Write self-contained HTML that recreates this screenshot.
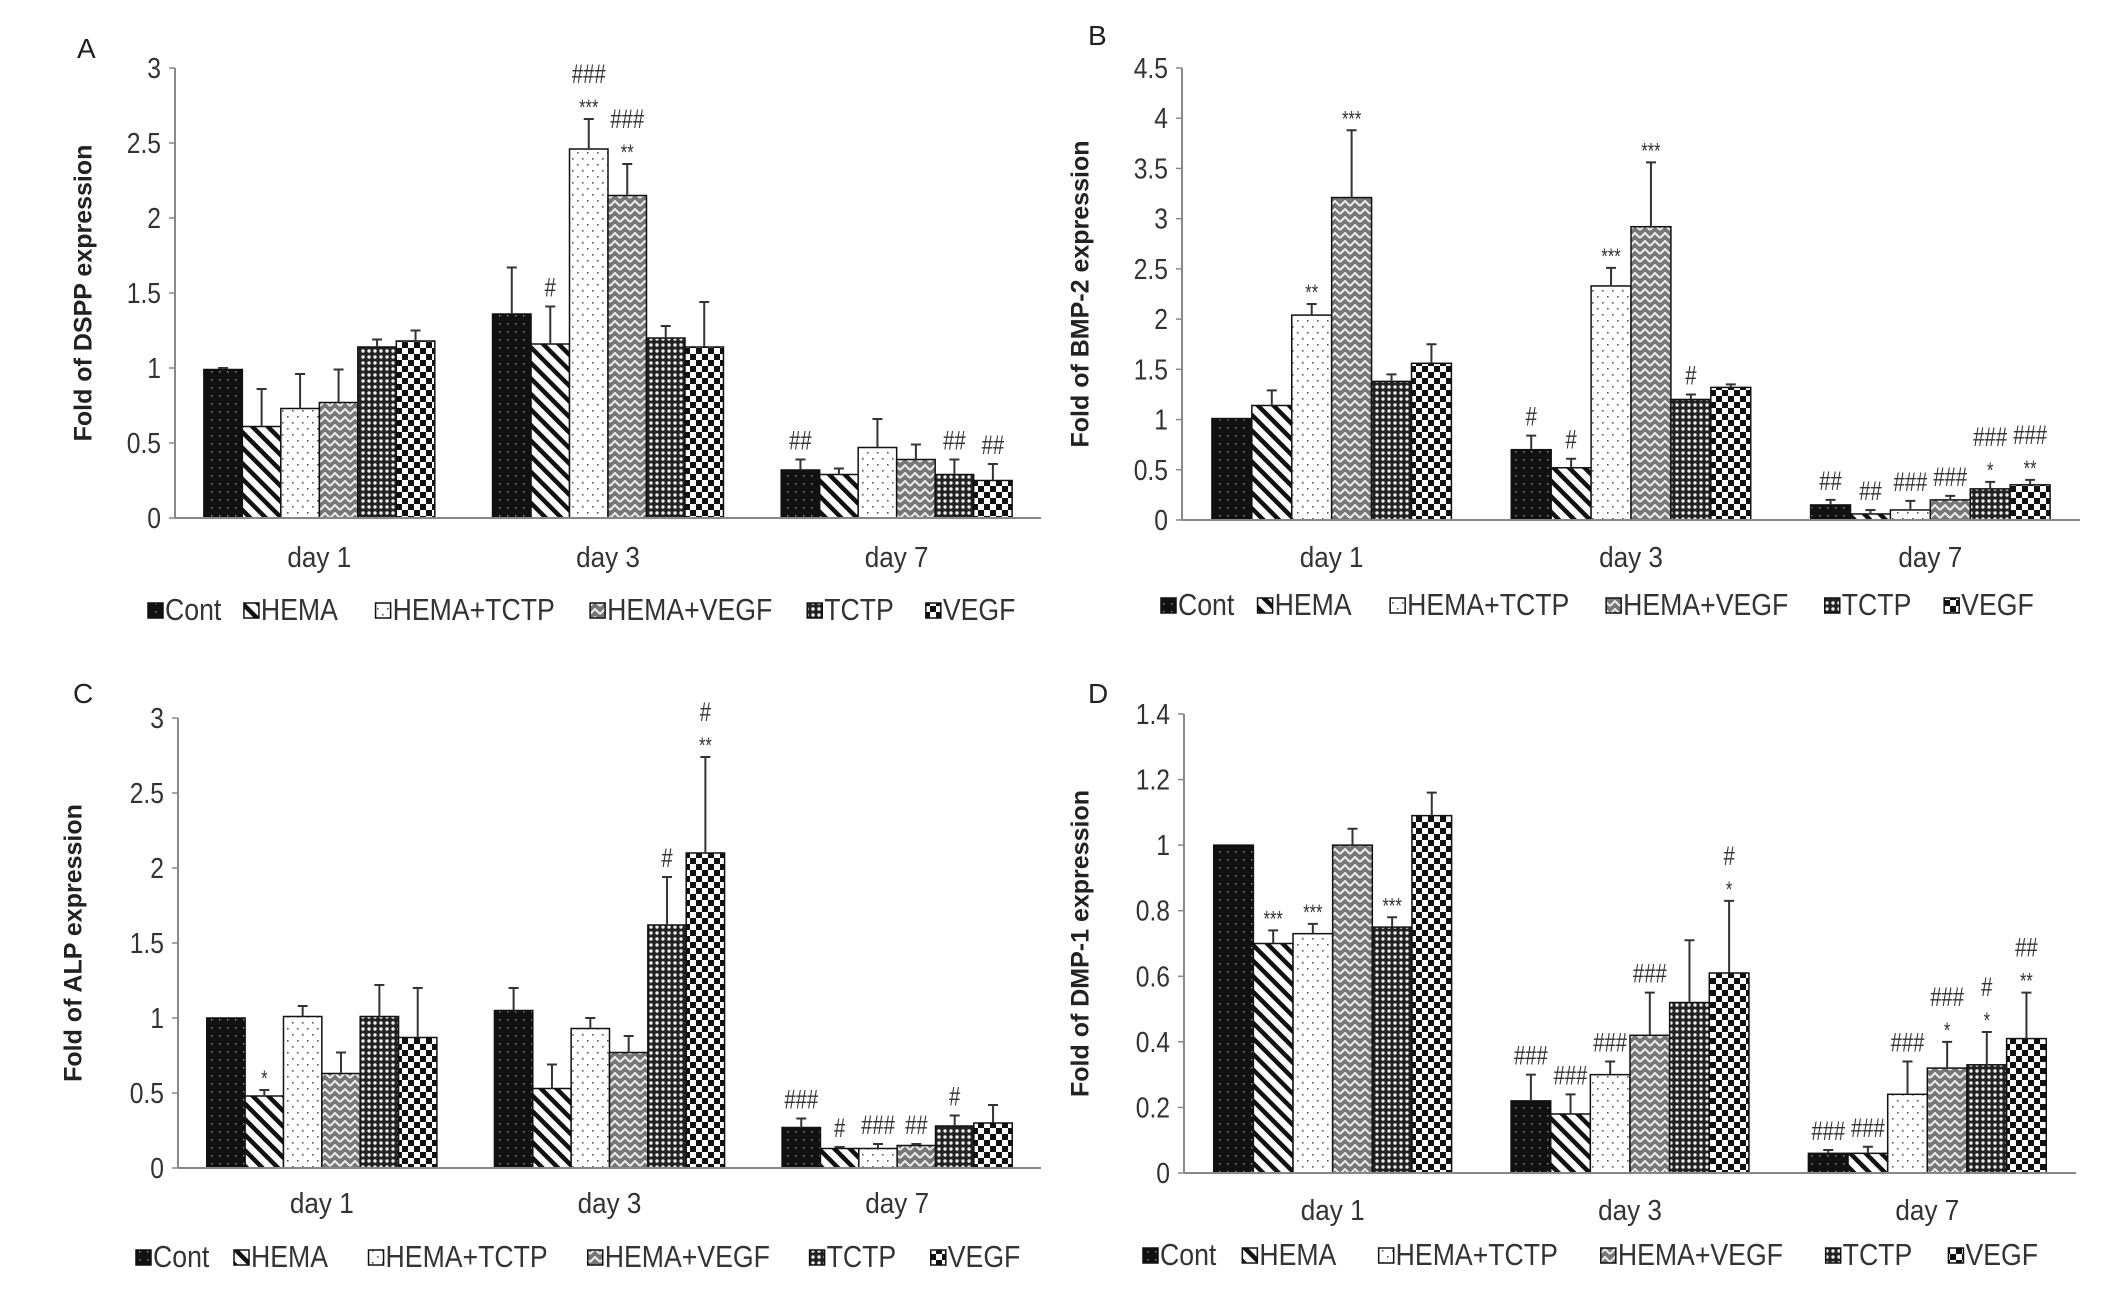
<!DOCTYPE html>
<html><head><meta charset="utf-8"><style>
html,body{margin:0;padding:0;background:#fff;}
svg{display:block;}
text{font-family:"Liberation Sans",sans-serif;}
</style></head><body>
<svg id="fig" width="2126" height="1301" viewBox="0 0 2126 1301" xmlns="http://www.w3.org/2000/svg">
<defs>
<pattern id="p-cont" width="8" height="8" patternUnits="userSpaceOnUse"><rect width="8" height="8" fill="#111"/><rect x="3" y="3" width="1.5" height="1.5" fill="#888"/></pattern>
<pattern id="p-hema" width="11" height="11" patternUnits="userSpaceOnUse" patternTransform="rotate(45)"><rect width="11" height="11" fill="#fff"/><rect width="11" height="4.5" fill="#111"/></pattern>
<pattern id="p-htctp" width="10" height="12" patternUnits="userSpaceOnUse"><rect width="10" height="12" fill="#fff"/><rect x="2" y="2" width="1.6" height="1.6" fill="#555"/><rect x="7" y="8" width="1.6" height="1.6" fill="#555"/></pattern>
<pattern id="p-hvegf" width="10" height="8" patternUnits="userSpaceOnUse"><rect width="10" height="8" fill="#777"/><polyline points="0,6 5,1 10,6" fill="none" stroke="#eee" stroke-width="2"/></pattern>
<pattern id="p-tctp" width="6" height="6" patternUnits="userSpaceOnUse"><rect width="6" height="6" fill="#222"/><circle cx="3" cy="3" r="1.7" fill="#eee"/></pattern>
<pattern id="p-vegf" width="12" height="12" patternUnits="userSpaceOnUse"><rect width="12" height="12" fill="#fff"/><rect width="6" height="6" fill="#111"/><rect x="6" y="6" width="6" height="6" fill="#111"/></pattern>
</defs>
</svg>
<script>
const categories = ["day 1","day 3","day 7"];
const seriesNames = ["Cont","HEMA","HEMA+TCTP","HEMA+VEGF","TCTP","VEGF"];
const patternIds = ["p-cont","p-hema","p-htctp","p-hvegf","p-tctp","p-vegf"];

const valsA = [[0.99,0.61,0.73,0.77,1.14,1.18],[1.36,1.16,2.46,2.15,1.20,1.14],[0.32,0.29,0.47,0.39,0.29,0.25]];
const errsA = [[0.01,0.25,0.23,0.22,0.05,0.07],[0.31,0.25,0.20,0.21,0.08,0.30],[0.07,0.04,0.19,0.10,0.10,0.11]];
const annA = [["","","","","",""],["","#","###\n***","###\n**","",""],["##","","","","##","##"]];

const valsB = [[1.01,1.14,2.04,3.21,1.38,1.56],[0.70,0.52,2.33,2.92,1.20,1.32],[0.15,0.06,0.10,0.20,0.31,0.35]];
const errsB = [[0.00,0.15,0.11,0.67,0.07,0.19],[0.14,0.09,0.18,0.64,0.05,0.03],[0.05,0.04,0.09,0.04,0.07,0.05]];
const annB = [["","","**","***","",""],["#","#","***","***","#",""],["##","##","###","###","###\n*","###\n**"]];

const valsC = [[1.00,0.48,1.01,0.63,1.01,0.87],[1.05,0.53,0.93,0.77,1.62,2.10],[0.27,0.13,0.13,0.15,0.28,0.30]];
const errsC = [[0.00,0.04,0.07,0.14,0.21,0.33],[0.15,0.16,0.07,0.11,0.32,0.64],[0.06,0.01,0.03,0.01,0.07,0.12]];
const annC = [["","*","","","",""],["","","","","#","#\n**"],["###","#","###","##","#",""]];

const valsD = [[1.00,0.70,0.73,1.00,0.75,1.09],[0.22,0.18,0.30,0.42,0.52,0.61],[0.06,0.06,0.24,0.32,0.33,0.41]];
const errsD = [[0.00,0.04,0.03,0.05,0.03,0.07],[0.08,0.06,0.04,0.13,0.19,0.22],[0.01,0.02,0.10,0.08,0.10,0.14]];
const annD = [["","***","***","","***",""],["###","###","###","###","","#\n*"],["###","###","###","###\n*","#\n*","##\n**"]];

const ticksA = ["0","0.5","1","1.5","2","2.5","3"];
const ticksB = ["0","0.5","1","1.5","2","2.5","3","3.5","4","4.5"];
const ticksC = ["0","0.5","1","1.5","2","2.5","3"];
const ticksD = ["0","0.2","0.4","0.6","0.8","1","1.2","1.4"];

const NS = "http://www.w3.org/2000/svg";
const svg = document.getElementById("fig");
function mk(tag, attrs, parent){const e=document.createElementNS(NS,tag);for(const k in attrs)e.setAttribute(k,attrs[k]);(parent||svg).appendChild(e);return e;}

const panels = [
 {id:"a",letter:"A",title:"Fold of DSPP expression",vals:valsA,errs:errsA,ann:annA,ticks:ticksA,max:3,x0:175,x1:1041,yt:68,yb:518,lx:77,ly:58,tx:85,cy:567,legY:620,legX0:148,legX1:1020},
 {id:"b",letter:"B",title:"Fold of BMP-2 expression",vals:valsB,errs:errsB,ann:annB,ticks:ticksB,max:4.5,x0:1182,x1:2080,yt:68,yb:520,lx:1088,ly:45,tx:1082,cy:567,legY:615,legX0:1161,legX1:2039},
 {id:"c",letter:"C",title:"Fold of ALP expression",vals:valsC,errs:errsC,ann:annC,ticks:ticksC,max:3,x0:178,x1:1041,yt:718,yb:1168,lx:73,ly:703,tx:75,cy:1213,legY:1267,legX0:136,legX1:1027},
 {id:"d",letter:"D",title:"Fold of DMP-1 expression",vals:valsD,errs:errsD,ann:annD,ticks:ticksD,max:1.4,x0:1184,x1:2076,yt:714,yb:1173,lx:1088,ly:703,tx:1082,cy:1220,legY:1265,legX0:1143,legX1:2046}
];
const legFrac=[0,0.110,0.261,0.507,0.756,0.892];

panels.forEach(p=>{
  const g=mk("g",{});
  
  
  const yS=v=>p.yb-(v/p.max)*(p.yb-p.yt);
  const gw=(p.x1-p.x0)/3, bw=gw*0.8/6;
  const xS=(c,s)=>p.x0+c*gw+gw*0.1+s*bw;
  const L=mk("text",{x:p.lx,y:p.ly,"font-size":28,fill:"#222"},g);L.textContent=p.letter;
  
  
  const cyT=(p.yt+p.yb)/2;
  const T=mk("text",{x:p.tx,y:cyT,"font-size":25,"font-weight":"bold",fill:"#222","text-anchor":"middle",transform:`rotate(-90 ${p.tx} ${cyT})`,"dominant-baseline":"middle"},g);T.textContent=p.title;
  
  
  p.ticks.forEach(t=>{
    const y=yS(parseFloat(t));
    mk("line",{x1:p.x0-6,x2:p.x0,y1:y,y2:y,stroke:"#888","stroke-width":1.5},g);
    const tt=mk("text",{x:p.x0-14,y:y+10,"font-size":29,fill:"#333","text-anchor":"end",transform:`translate(${p.x0-14} 0) scale(0.85 1) translate(${-(p.x0-14)} 0)`},g);tt.textContent=t;
    
    
  });
  const ax=mk("line",{x1:p.x0,x2:p.x0,y1:p.yt,y2:p.yb,stroke:"#888","stroke-width":2},g);
  
  
  categories.forEach((cat,c)=>{
    seriesNames.forEach((sn,s)=>{
      const v=p.vals[c][s], e=p.errs[c][s];
      const x=xS(c,s), y=yS(v);
      const r=mk("rect",{x:x,y:y,width:bw,height:p.yb-y,fill:`url(#${patternIds[s]})`,stroke:"#111","stroke-width":1.5},g);
      
      
      const ye=yS(v+e), xc=x+bw/2;
      if(e>0){
        const el=mk("path",{d:`M${xc},${y}V${ye}M${xc-5},${ye}H${xc+5}`,stroke:"#333","stroke-width":2,fill:"none"},g);
        
        
      }
      const a=p.ann[c][s];
      if(a){
        const lines=a.split("\n");
        lines.forEach((ln,i)=>{
          const yy=ye-10-(lines.length-1-i)*26;
          const isStar=ln[0]==="*";
          const at=mk("text",{x:xc,y:isStar?yy+6:yy,"font-size":isStar?22:27,fill:"#333","text-anchor":"middle",transform:`translate(${xc} 0) scale(0.75 1) translate(${-xc} 0)`},g);
          at.textContent=ln;
          
          
        });
      }
    });
    const cx=p.x0+gw*(c+0.5);
    const cl=mk("text",{x:cx,y:p.cy,"font-size":29,fill:"#333","text-anchor":"middle",transform:`translate(${cx} 0) scale(0.9 1) translate(${-cx} 0)`},g);cl.textContent=cat;
    
    
  });
  const bx=mk("line",{x1:p.x0,x2:p.x1,y1:p.yb,y2:p.yb,stroke:"#888","stroke-width":2},g);
  
  
  const span=p.legX1-p.legX0;
  seriesNames.forEach((sn,s)=>{
    const lx=p.legX0+legFrac[s]*span;
    const lg=mk("g",{},g);
    
    
    mk("rect",{x:lx,y:p.legY-17,width:15,height:15,fill:`url(#${patternIds[s]})`,stroke:"#111","stroke-width":1.5},lg);
    const lt=mk("text",{x:lx+17,y:p.legY,"font-size":31,fill:"#333",transform:`translate(${lx+17} 0) scale(0.86 1) translate(${-(lx+17)} 0)`},lg);lt.textContent=sn;
  });
});
</script>
</body></html>
